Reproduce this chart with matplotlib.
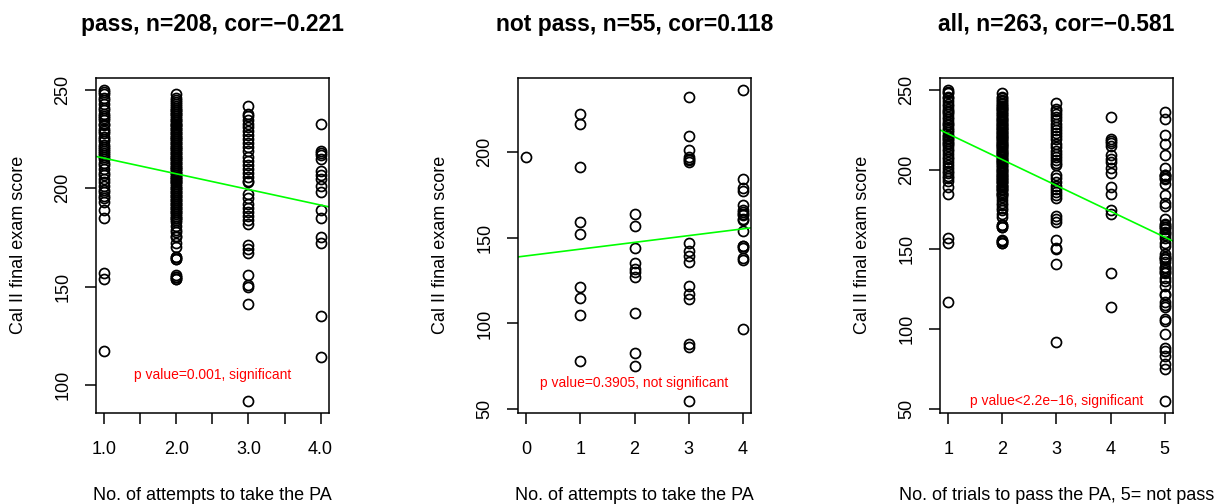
import numpy as np
import matplotlib
matplotlib.use("Agg")
import matplotlib.pyplot as plt

plt.rcParams["font.family"] = ["Liberation Sans", "DejaVu Sans"]

# pass group: Cal II final exam score by number of attempts (1-4)
pass_1 = [250, 249, 248, 246, 245, 243, 241, 240, 238, 237, 236, 235, 233, 232,
          230, 229, 228, 226, 225, 224, 222, 221, 220, 219, 218, 217, 216, 215,
          213, 212, 210, 208, 207, 205, 203, 201, 199, 198, 196, 195, 193, 189,
          185, 157, 154, 117]
pass_2 = [248, 246, 245, 244, 243, 242, 241, 240, 239, 238, 237, 236, 235, 234,
          233, 232, 231, 230, 229, 228, 227, 226, 225, 224, 223, 222, 221, 220,
          219, 218, 217, 216, 215, 214, 213, 212, 211, 210, 209, 208, 207, 206,
          205, 204, 203, 202, 201, 200, 199, 198, 197, 196, 195, 194, 193, 192,
          191, 190, 189, 188, 187, 186, 185, 184, 183, 181, 179, 178, 176, 175,
          172, 170, 165, 164, 156, 155, 154,
          240, 238, 235, 232, 230, 228, 226, 225, 223, 221, 220, 218, 216, 215,
          213, 211, 210, 208, 206, 205, 203, 200, 198, 196, 194, 192, 190, 188,
          185, 165, 164, 155, 154]
pass_3 = [242, 238, 237, 235, 233, 231, 229, 227, 225, 223, 221, 219, 216, 214,
          212, 210, 208, 206, 204, 203, 197, 195, 192, 190, 188, 186, 184, 182,
          171, 169, 167, 156, 151, 150, 141, 92]
pass_4 = [233, 219, 218, 217, 215, 209, 207, 205, 201, 198, 189, 185, 175, 172,
          135, 114]

# not pass group: scores by number of attempts (0-4)
fail_0 = [197]
fail_1 = [222, 216, 191, 159, 152, 121, 115, 105, 78]
fail_2 = [164, 157, 144, 135, 132, 130, 127, 106, 83, 75]
fail_3 = [232, 209, 201, 197, 196, 195, 194, 147, 142, 139, 136, 122, 117, 114,
          88, 86, 55]
fail_4 = [236, 184, 179, 177, 169, 166, 165, 164, 163, 161, 160, 154, 145, 145,
          144, 138, 137, 97]

titles = ["pass, n=208, cor=\u22120.221",
          "not pass, n=55, cor=0.118",
          "all, n=263, cor=\u22120.581"]
xlabels = ["No. of attempts to take the PA",
           "No. of attempts to take the PA",
           "No. of trials to pass the PA, 5= not pass"]
notes = ["p value=0.001, significant",
         "p value=0.3905, not significant",
         "p value<2.2e\u221216, significant"]
note_pos = [(2.5, 105), (2.0, 65), (3.0, 55)]


def stack(groups, xs):
    x = np.concatenate([[k] * len(g) for k, g in zip(xs, groups)])
    y = np.concatenate([np.asarray(g, float) for g in groups])
    return x.astype(float), y


x_pass, y_pass = stack([pass_1, pass_2, pass_3, pass_4], [1, 2, 3, 4])
x_fail, y_fail = stack([fail_0, fail_1, fail_2, fail_3, fail_4], [0, 1, 2, 3, 4])
x_all = np.concatenate([x_pass, np.full(len(y_fail), 5.0)])
y_all = np.concatenate([y_pass, y_fail])

panels = [(x_pass, y_pass), (x_fail, y_fail), (x_all, y_all)]
xticks = [np.arange(1, 4.01, 0.5), np.arange(0, 5), np.arange(1, 6)]
xticklabels = [["1.0", "", "2.0", "", "3.0", "", "4.0"],
               ["0", "1", "2", "3", "4"],
               ["1", "2", "3", "4", "5"]]
yticks = [[100, 150, 200, 250], [50, 100, 150, 200], [50, 100, 150, 200, 250]]

fig = plt.figure(figsize=(12.28, 5.04), dpi=100)
lefts = [0.0779, 0.4216, 0.7652]

for i, (x, y) in enumerate(panels):
    ax = fig.add_axes([lefts[i], 0.1806, 0.1902, 0.6652])
    ax.plot(x, y, "o", ms=7.2, mfc="none", mec="black", mew=1.25)

    # R-style 4% padding of the data range
    xr = x.max() - x.min()
    yr = y.max() - y.min()
    ax.set_xlim(x.min() - 0.04 * xr, x.max() + 0.04 * xr)
    ax.set_ylim(y.min() - 0.04 * yr, y.max() + 0.04 * yr)

    m, b = np.polyfit(x, y, 1)
    ax.axline((0, b), slope=m, color="#00ff00", lw=1.2)

    ax.text(*note_pos[i], notes[i], color="red", fontsize=10,
            ha="center", va="center")

    ax.set_xticks(xticks[i])
    ax.set_xticklabels(xticklabels[i])
    ax.set_yticks(yticks[i])
    ax.set_yticklabels([str(v) for v in yticks[i]], rotation=90, va="center")
    ax.tick_params(axis="both", direction="out", length=8, width=1.1,
                   labelsize=13)
    ax.tick_params(axis="x", pad=12.5)
    ax.tick_params(axis="y", pad=9.5)
    for s in ax.spines.values():
        s.set_linewidth(1.1)

    ax.set_title(titles[i], fontsize=16.5, fontweight="bold",
                 y=1.16, pad=0, va="center")
    ax.set_xlabel(xlabels[i], fontsize=13, va="center")
    ax.xaxis.set_label_coords(0.5, -0.245)
    ax.set_ylabel("Cal II final exam score", fontsize=13, va="center")
    ax.yaxis.set_label_coords(-0.33, 0.5)

fig.savefig("out.png", dpi=100)
